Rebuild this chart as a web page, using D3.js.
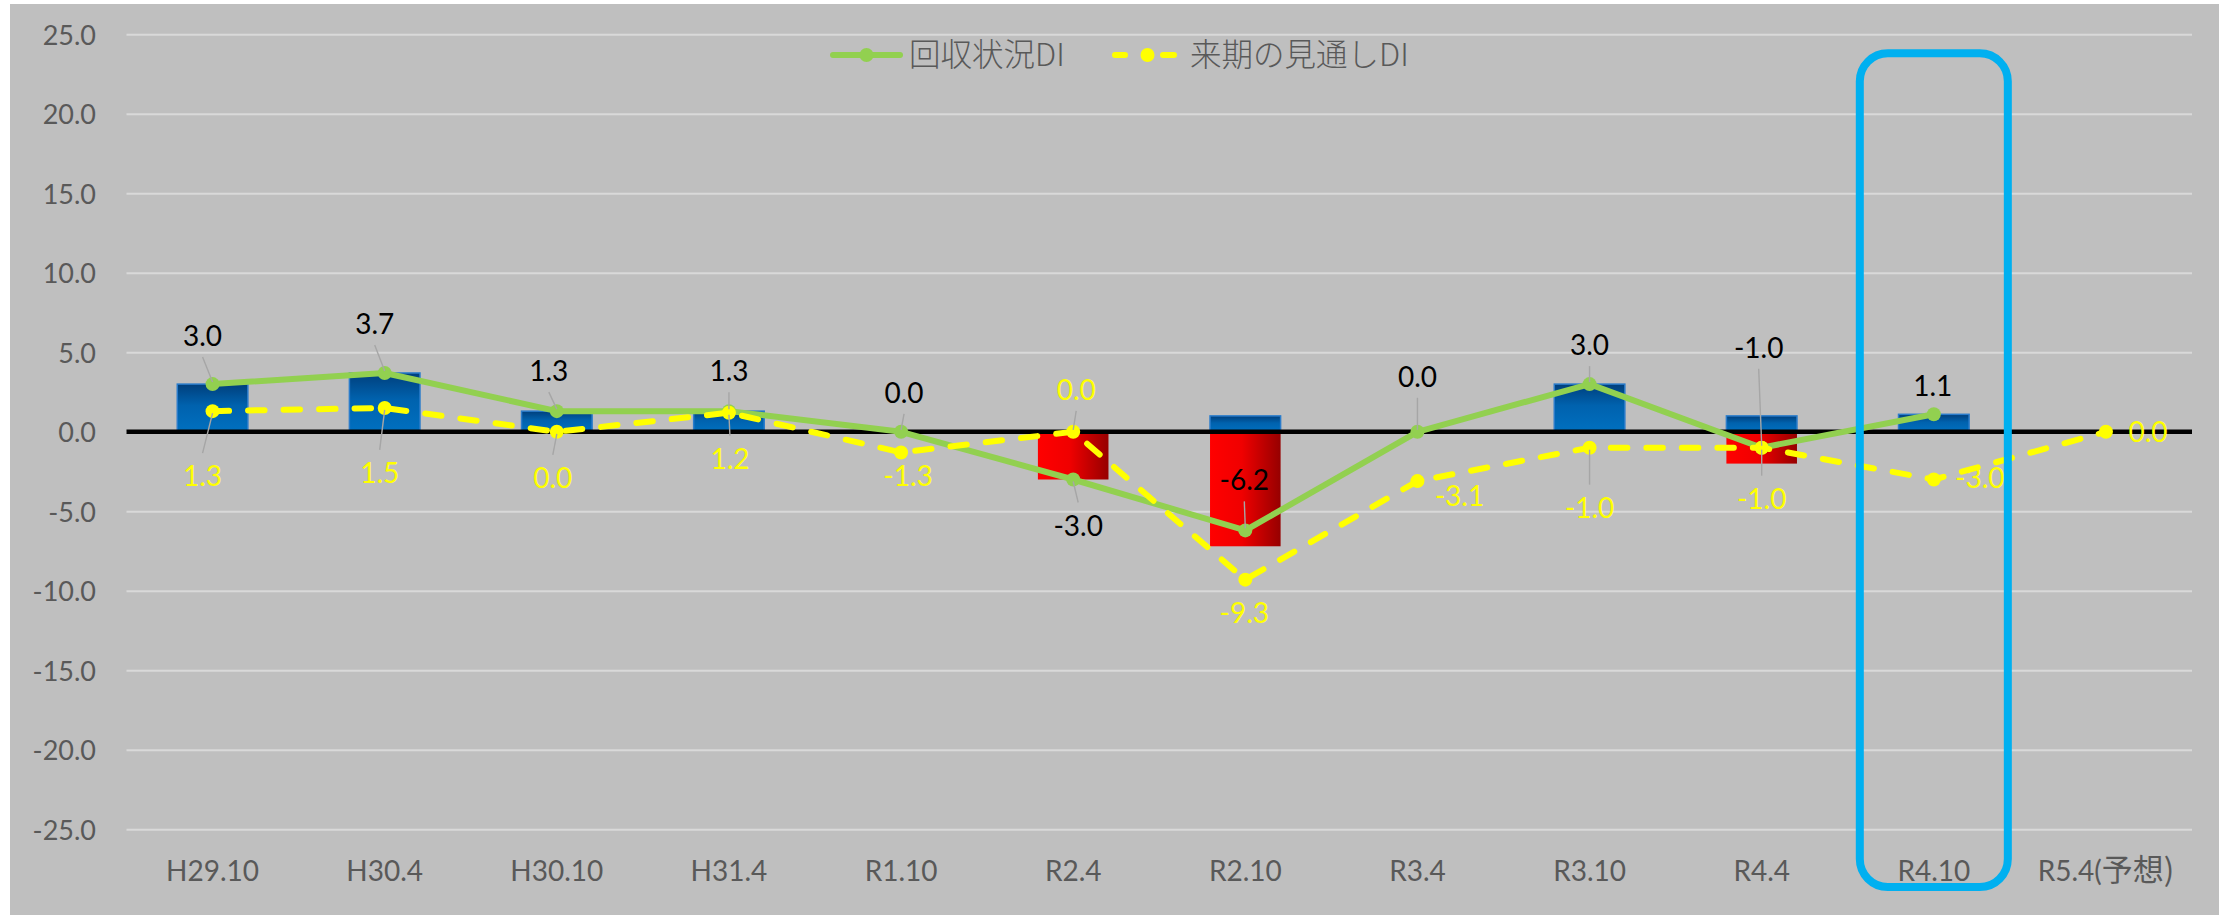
<!DOCTYPE html>
<html>
<head>
<meta charset="utf-8">
<script src="https://cdn.jsdelivr.net/npm/d3@7"></script>
<style>
  html, body { margin: 0; padding: 0; background: #ffffff; }
  svg { display: block; }
</style>
</head>
<body>
<svg id="chart" width="2226" height="915"></svg>
<script>
// ---- data ----
const categories = ["H29.10", "H30.4", "H30.10", "H31.4", "R1.10", "R2.4", "R2.10", "R3.4", "R3.10", "R4.4", "R4.10", "R5.4(予想)"];
const collectionDI = [3.0, 3.7, 1.3, 1.3, 0.0, -3.0, -6.2, 0.0, 3.0, -1.0, 1.1, null];
const outlookDI = [1.3, 1.5, 0.0, 1.2, -1.3, 0.0, -9.3, -3.1, -1.0, -1.0, -3.0, 0.0];
const improvedPart = [3.0, 3.7, 1.3, 1.3, 0, 0, 1.0, 0, 3.0, 1.0, 1.1, 0];
const worsenedPart = [0, 0, 0, 0, 0, -3.0, -7.2, 0, 0, -2.0, 0, 0];
const yTicks = [25, 20, 15, 10, 5, 0, -5, -10, -15, -20, -25];
const seriesNames = ["回収状況DI", "来期の見通しDI"];
const highlighted = "R4.10";

// ---- label placement: offset of each value label from its marker (px) ----
const collectionLabelShift = [[-10, -48], [-10, -49], [-8, -40], [0, -40], [3, -39], [5, 46], [-1, -50], [0, -55], [0, -39], [-3, -100], [-1, -28], [0, 0]];
const outlookLabelShift = [[-10, 65], [-5, 65], [-4, 46], [1, 46], [7, 24], [3, -42], [-1, 33], [42, 15], [0, 60], [0, 51], [46, -2], [42, 0]];

// ---- layout ----
const FONT = "Lato, 'Noto Sans CJK JP', sans-serif";
const CJK = "'Noto Sans CJK JP', sans-serif";
const plot = { left: 126.5, right: 2192, top: 34.3, bottom: 829.3 };
const GREEN = "#92D050", YELLOW = "#FFFF00", AXIS_TEXT = "#595959";

const svg = d3.select("#chart");

// chart area background
svg.append("rect")
  .attr("x", 10).attr("y", 4).attr("width", 2209).attr("height", 911)
  .attr("fill", "#BFBFBF");

const x = d3.scaleBand().domain(categories).range([plot.left, plot.right]);
const y = d3.scaleLinear().domain([-25, 25]).range([plot.bottom, plot.top]);
const cx = c => x(c) + x.bandwidth() / 2;
const fmt = v => v.toFixed(1);

// gradients for the bars
const defs = svg.append("defs");
const blueGrad = defs.append("linearGradient").attr("id", "blueGrad")
  .attr("x1", 0).attr("y1", 0).attr("x2", 0).attr("y2", 1);
blueGrad.append("stop").attr("offset", "0%").attr("stop-color", "#003F7C");
blueGrad.append("stop").attr("offset", "45%").attr("stop-color", "#0062AE");
blueGrad.append("stop").attr("offset", "100%").attr("stop-color", "#0070C0");
const redGrad = defs.append("linearGradient").attr("id", "redGrad")
  .attr("x1", 0).attr("y1", 0).attr("x2", 1).attr("y2", 0);
redGrad.append("stop").attr("offset", "0%").attr("stop-color", "#FF0000");
redGrad.append("stop").attr("offset", "45%").attr("stop-color", "#F00000");
redGrad.append("stop").attr("offset", "100%").attr("stop-color", "#960000");

// horizontal gridlines
svg.append("g")
  .attr("transform", `translate(${plot.left},0)`)
  .call(d3.axisLeft(y).tickValues(yTicks).tickSize(-(plot.right - plot.left)).tickFormat(""))
  .call(g => g.select(".domain").remove())
  .call(g => g.selectAll("line").attr("stroke", "#D9D9D9").attr("stroke-width", 2));

// y axis labels
svg.append("g")
  .attr("transform", `translate(${plot.left},0)`)
  .call(d3.axisLeft(y).tickValues(yTicks).tickSize(0).tickPadding(30.5).tickFormat(fmt))
  .call(g => g.select(".domain").remove())
  .call(g => g.selectAll("text")
    .attr("fill", AXIS_TEXT).attr("font-size", 27).attr("font-family", FONT).attr("dy", "0.36em"));

// x axis labels (the Japanese part of a label is set slightly larger)
svg.append("g")
  .attr("transform", `translate(0,880.5)`)
  .call(d3.axisBottom(x).tickSize(0).tickPadding(0))
  .call(g => g.select(".domain").remove())
  .call(g => g.selectAll("text")
    .attr("fill", AXIS_TEXT).attr("font-size", 28).attr("font-family", FONT).attr("dy", "0")
    .each(function (d) {
      const m = d.match(/^([^(]*\()(.*)$/);
      if (!m) return;
      const t = d3.select(this).text(null);
      t.append("tspan").text(m[1]);
      t.append("tspan").attr("font-family", CJK).attr("font-size", 31).text(m[2]);
    }));

// bars
const barW = x.bandwidth() * 0.41;
const barData = categories.map((c, i) => ({ c, up: improvedPart[i], down: worsenedPart[i] }));
const bars = svg.append("g");
bars.selectAll("rect.up")
  .data(barData.filter(d => d.up > 0))
  .join("rect").attr("class", "up")
  .attr("x", d => cx(d.c) - barW / 2).attr("y", d => y(d.up))
  .attr("width", barW).attr("height", d => y(0) - y(d.up))
  .attr("fill", "url(#blueGrad)").attr("stroke", "#2A7CCB").attr("stroke-width", 1.5);
bars.selectAll("rect.down")
  .data(barData.filter(d => d.down < 0))
  .join("rect").attr("class", "down")
  .attr("x", d => cx(d.c) - barW / 2).attr("y", y(0))
  .attr("width", barW).attr("height", d => y(d.down) - y(0))
  .attr("fill", "url(#redGrad)");

// zero line
svg.append("line")
  .attr("x1", plot.left).attr("x2", plot.right)
  .attr("y1", y(0)).attr("y2", y(0))
  .attr("stroke", "#000000").attr("stroke-width", 4.5);

// lines and markers
const collectionPts = categories.map((c, i) => ({ c, v: collectionDI[i], shift: collectionLabelShift[i] }));
const outlookPts = categories.map((c, i) => ({ c, v: outlookDI[i], shift: outlookLabelShift[i] }));
const line = d3.line().defined(d => d.v != null).x(d => cx(d.c)).y(d => y(d.v));

svg.append("path").datum(collectionPts)
  .attr("d", line).attr("fill", "none")
  .attr("stroke", GREEN).attr("stroke-width", 6).attr("stroke-linejoin", "round");
svg.append("g").selectAll("circle")
  .data(collectionPts.filter(d => d.v != null))
  .join("circle").attr("cx", d => cx(d.c)).attr("cy", d => y(d.v)).attr("r", 7).attr("fill", GREEN);

svg.append("path").datum(outlookPts)
  .attr("d", line).attr("fill", "none")
  .attr("stroke", YELLOW).attr("stroke-width", 6)
  .attr("stroke-dasharray", "16.5 19").attr("stroke-linecap", "round").attr("stroke-linejoin", "round");
svg.append("g").selectAll("circle")
  .data(outlookPts.filter(d => d.v != null))
  .join("circle").attr("cx", d => cx(d.c)).attr("cy", d => y(d.v)).attr("r", 7).attr("fill", YELLOW);

// value labels with leader lines
function drawLabels(points, color) {
  const pts = points.filter(d => d.v != null);
  const g = svg.append("g");
  g.selectAll("line")
    .data(pts.filter(d => Math.abs(d.shift[1]) > 35))
    .join("line")
    .attr("x1", d => cx(d.c) + d.shift[0])
    .attr("y1", d => y(d.v) + d.shift[1] + (d.shift[1] < 0 ? 21 : -23))
    .attr("x2", d => cx(d.c))
    .attr("y2", d => y(d.v) + (d.shift[1] < 0 ? -2 : 2))
    .attr("stroke", "#A6A6A6").attr("stroke-width", 1.4);
  g.selectAll("text")
    .data(pts)
    .join("text")
    .attr("x", d => cx(d.c) + d.shift[0])
    .attr("y", d => y(d.v) + d.shift[1] + 10)
    .attr("text-anchor", "middle")
    .attr("font-family", FONT).attr("font-size", 28)
    .attr("fill", color)
    .text(d => fmt(d.v));
}
drawLabels(collectionPts, "#000000");
drawLabels(outlookPts, YELLOW);

// legend
const legend = svg.append("g").attr("transform", "translate(0,55)");
legend.append("line").attr("x1", 833).attr("x2", 900).attr("y1", 0).attr("y2", 0)
  .attr("stroke", GREEN).attr("stroke-width", 6).attr("stroke-linecap", "round");
legend.append("circle").attr("cx", 866.5).attr("cy", 0).attr("r", 7).attr("fill", GREEN);
legend.append("text").attr("x", 909).attr("y", 0).attr("dy", "0.36em")
  .attr("font-family", CJK).attr("font-weight", 300).attr("font-size", 31.5).attr("fill", AXIS_TEXT)
  .text(seriesNames[0]);
[[1115, 1125], [1163, 1174]].forEach(([a, b]) => {
  legend.append("line").attr("x1", a).attr("x2", b).attr("y1", 0).attr("y2", 0)
    .attr("stroke", YELLOW).attr("stroke-width", 6).attr("stroke-linecap", "round");
});
legend.append("circle").attr("cx", 1147.5).attr("cy", 0).attr("r", 7).attr("fill", YELLOW);
legend.append("text").attr("x", 1190).attr("y", 0).attr("dy", "0.36em")
  .attr("font-family", CJK).attr("font-weight", 300).attr("font-size", 31.5).attr("fill", AXIS_TEXT)
  .text(seriesNames[1]);

// highlight frame around the latest survey
const frameHalf = x.bandwidth() * 0.43;
svg.append("rect")
  .attr("x", cx(highlighted) - frameHalf).attr("y", 53.3)
  .attr("width", frameHalf * 2).attr("height", 833.7)
  .attr("rx", 28).attr("ry", 28)
  .attr("fill", "none").attr("stroke", "#00B0F0").attr("stroke-width", 8);
</script>
</body>
</html>
